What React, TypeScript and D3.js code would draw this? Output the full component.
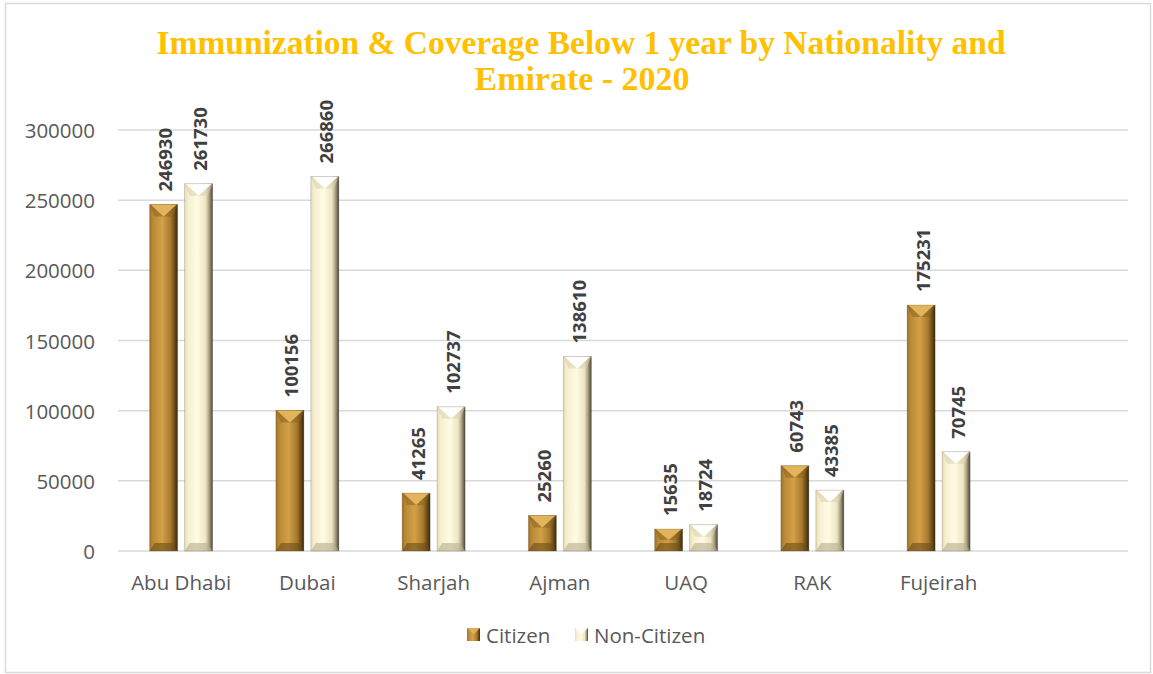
import * as d3 from 'd3'
import { useEffect, useRef } from 'react'

const categories = ['Abu Dhabi', 'Dubai', 'Sharjah', 'Ajman', 'UAQ', 'RAK', 'Fujeirah', '']
const citizen = [246930, 100156, 41265, 25260, 15635, 60743, 175231]
const nonCitizen = [261730, 266860, 102737, 138610, 18724, 43385, 70745]
const yTicks = [0, 50000, 100000, 150000, 200000, 250000, 300000]
const seriesNames = ['Citizen', 'Non-Citizen']

const WIDTH = 1153
const HEIGHT = 674
const MARGIN = { TOP: 130, RIGHT: 25, BOTTOM: 123, LEFT: 118 }

const drawChart = (node: SVGSVGElement) => {
  const svg = d3.select(node)
  svg.selectAll('*').remove()

  const defs = svg.append('defs')
  const grad = (id: string, stops: [string, string][]) => {
    const g = defs.append('linearGradient').attr('id', id)
      .attr('x1', '0%').attr('x2', '100%').attr('y1', '0%').attr('y2', '0%')
    stops.forEach(s => g.append('stop').attr('offset', s[0]).attr('stop-color', s[1]))
  }
  grad('g-cit', [['0%', '#9c7026'], ['12%', '#b98a35'], ['45%', '#d3a048'], ['75%', '#a87a2c'], ['88%', '#6e4f1a'], ['100%', '#3a2a0d']])
  grad('g-non', [['0%', '#e6dcb4'], ['12%', '#f6efcf'], ['45%', '#fffbe4'], ['75%', '#eee5c1'], ['88%', '#a59d80'], ['100%', '#4b4536']])

  // chart border
  svg.append('rect')
    .attr('x', 5.5).attr('y', 3.5)
    .attr('width', 1145).attr('height', 669)
    .attr('fill', 'white').attr('stroke', '#d9d9d9').attr('stroke-width', 1.5)

  const x = d3.scaleBand()
    .domain(categories.map((c, i) => String(i)))
    .range([MARGIN.LEFT, WIDTH - MARGIN.RIGHT])

  const y = d3.scaleLinear()
    .domain([0, 300000])
    .range([HEIGHT - MARGIN.BOTTOM, MARGIN.TOP])

  // gridlines
  svg.append('g')
    .selectAll('line')
    .data(yTicks)
    .join('line')
    .attr('x1', MARGIN.LEFT).attr('x2', WIDTH - MARGIN.RIGHT)
    .attr('y1', d => y(d)).attr('y2', d => y(d))
    .attr('stroke', '#d9d9d9').attr('stroke-width', 1.5)

  // y tick labels
  svg.append('g')
    .selectAll('text')
    .data(yTicks)
    .join('text')
    .attr('x', 95).attr('y', d => y(d))
    .attr('text-anchor', 'end').attr('dominant-baseline', 'central')
    .attr('font-family', 'Open Sans').attr('font-size', 20.5).attr('fill', '#595959')
    .text(d => d)

  // x labels
  svg.append('g')
    .selectAll('text')
    .data(categories)
    .join('text')
    .attr('x', (d, i) => (x(String(i)) as number) + x.bandwidth() / 2)
    .attr('y', 590)
    .attr('text-anchor', 'middle')
    .attr('font-family', 'Open Sans').attr('font-size', 20.5).attr('fill', '#595959')
    .text(d => d)

  const barW = 28
  const gap = 7
  const series = [
    { name: 'cit', values: citizen, offset: -gap / 2 - barW, top: '#e2b45c', bottom: '#6b4c18', side: '#8a6220' },
    { name: 'non', values: nonCitizen, offset: gap / 2, top: '#ffffff', bottom: '#b5ad8e', side: '#d8cfae' },
  ]

  series.forEach(s => {
    const g = svg.append('g')
    s.values.forEach((v, i) => {
      const x0 = (x(String(i)) as number) + x.bandwidth() / 2 + s.offset
      const x1 = x0 + barW
      const y0 = y(v)
      const yb = y(0)
      const h = yb - y0
      const b = Math.min(12, h / 2)
      const xc = (x0 + x1) / 2
      g.append('rect')
        .attr('x', x0).attr('y', y0).attr('width', barW).attr('height', h)
        .attr('fill', `url(#g-${s.name})`)
      // top bevel
      g.append('path')
        .attr('d', `M${x0},${y0}L${x1},${y0}L${x1 - 5},${y0 + b}L${x0 + 5},${y0 + b}Z`)
        .attr('fill', s.side).attr('opacity', 0.55)
      g.append('path')
        .attr('d', `M${x0 + 1},${y0}L${x1 - 1},${y0}L${xc},${y0 + b}Z`)
        .attr('fill', s.top)
      // bottom bevel
      const bb = Math.min(8, h / 2)
      g.append('path')
        .attr('d', `M${x0},${yb}L${x1},${yb}L${x1 - 5},${yb - bb}L${x0 + 5},${yb - bb}Z`)
        .attr('fill', s.bottom).attr('opacity', 0.6)
      g.append('rect')
        .attr('x', x0).attr('y', y0).attr('width', barW).attr('height', h)
        .attr('fill', 'none').attr('stroke', '#3a3020').attr('stroke-opacity', 0.25).attr('stroke-width', 0.8)
      // value label
      g.append('text')
        .attr('transform', `translate(${xc + 1},${y0 - 13}) rotate(-90)`)
        .attr('text-anchor', 'start').attr('dominant-baseline', 'central')
        .attr('font-family', 'Open Sans').attr('font-weight', 'bold')
        .attr('font-size', 18.5).attr('fill', '#404040')
        .text(v)
    })
  })

  // title
  const title = svg.append('text')
    .attr('text-anchor', 'middle')
    .attr('font-family', 'Liberation Serif').attr('font-weight', 'bold')
    .attr('font-size', 33).attr('fill', '#ffc000')
  title.append('tspan').attr('x', 581).attr('y', 54)
    .attr('textLength', 849).attr('lengthAdjust', 'spacingAndGlyphs')
    .text('Immunization & Coverage Below 1 year by Nationality and')
  title.append('tspan').attr('x', 582).attr('y', 90)
    .attr('textLength', 215).attr('lengthAdjust', 'spacingAndGlyphs')
    .text('Emirate - 2020')

  // legend
  const legend = [
    { label: seriesNames[0], x: 467, grad: 'g-cit', top: '#e2b45c' },
    { label: seriesNames[1], x: 575, grad: 'g-non', top: '#ffffff' },
  ]
  legend.forEach(l => {
    const lg = svg.append('g').attr('transform', `translate(${l.x},628)`)
    lg.append('rect').attr('width', 13).attr('height', 13).attr('fill', `url(#${l.grad})`)
    lg.append('path').attr('d', 'M0,0L13,0L6.5,6.5Z').attr('fill', l.top).attr('opacity', 0.8)
    lg.append('text')
      .attr('x', 19).attr('y', 7).attr('dominant-baseline', 'central')
      .attr('font-family', 'Open Sans').attr('font-size', 20.5).attr('fill', '#595959')
      .text(l.label)
  })
}

export default function App() {
  const ref = useRef<SVGSVGElement>(null)
  useEffect(() => {
    if (ref.current) drawChart(ref.current)
  }, [])
  return (
    <svg ref={ref} width={WIDTH} height={HEIGHT}
      style={{ position: 'absolute', left: 0, top: 0, background: 'white' }} />
  )
}
